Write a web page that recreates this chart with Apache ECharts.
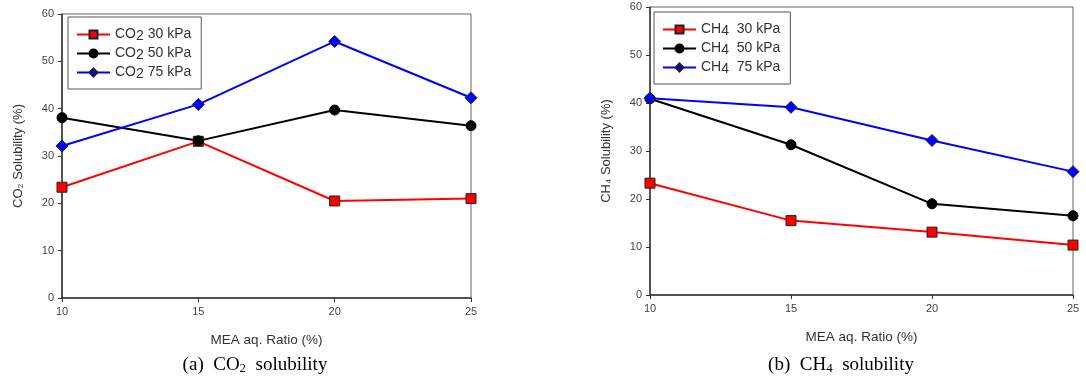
<!DOCTYPE html>
<html lang="en">
<head>
    <meta charset="UTF-8">
    <title>CO2 / CH4 solubility vs MEA ratio</title>
    <script src="https://cdn.jsdelivr.net/npm/echarts@6/dist/echarts.min.js"></script>
    <style>
        html, body { margin: 0; padding: 0; background: #fff; }
        #chart { width: 1086px; height: 377px; }
    </style>
</head>
<body>
    <div id="chart"></div>
    <script>
        // MEA aq. ratio (%)
        var ratios = [10, 15, 20, 25];
        var pressures = ['30 kPa', '50 kPa', '75 kPa'];

        // (a) CO2 solubility (%)
        var co2_30 = [23.4, 33.1, 20.5, 21.0];
        var co2_50 = [38.1, 33.2, 39.7, 36.4];
        var co2_75 = [32.1, 40.9, 54.2, 42.3];

        // (b) CH4 solubility (%)
        var ch4_30 = [23.3, 15.5, 13.1, 10.4];
        var ch4_50 = [40.9, 31.3, 19.0, 16.5];
        var ch4_75 = [41.0, 39.1, 32.2, 25.7];

        var yTicks = [0, 10, 20, 30, 40, 50, 60];

        var colors = ['#ff0000', '#000000', '#0000ff'];
        var symbols = ['rect', 'circle', 'diamond'];
        var symSizes = [10, 10, 12];
        var font = '"Liberation Sans", Arial, sans-serif';
        var serif = '"Liberation Serif", "Times New Roman", serif';

        function pairs(ys) {
            return ratios.map(function (x, i) { return [x, ys[i]]; });
        }

        function makeSeries(name, ys, k, idx) {
            return {
                name: name,
                type: 'line',
                xAxisIndex: idx,
                yAxisIndex: idx,
                data: pairs(ys),
                symbol: symbols[k],
                symbolSize: symSizes[k],
                lineStyle: { color: colors[k], width: 2 },
                itemStyle: {
                    color: colors[k],
                    borderColor: k === 1 ? '#000' : '#222',
                    borderWidth: 1
                },
                z: 3 + k,
                emphasis: { disabled: true },
                animation: false
            };
        }

        function xAxis(idx) {
            return {
                gridIndex: idx,
                type: 'value',
                min: 10, max: 25, interval: 5,
                name: 'MEA aq. Ratio (%)',
                nameLocation: 'middle',
                nameGap: 35,
                nameTextStyle: { fontFamily: font, fontSize: 13.5, color: '#333' },
                axisLine: { lineStyle: { color: '#333', width: 1.5 } },
                axisTick: { length: 4, lineStyle: { color: '#333' } },
                axisLabel: { fontFamily: font, fontSize: 11, color: '#444', margin: 8 },
                splitLine: { show: false }
            };
        }

        function yAxis(idx, name) {
            return {
                gridIndex: idx,
                type: 'value',
                min: yTicks[0], max: yTicks[yTicks.length - 1], interval: 10,
                name: name,
                nameLocation: 'middle',
                nameGap: 37,
                nameTextStyle: { fontFamily: font, fontSize: 13, color: '#333' },
                axisLine: { show: true, lineStyle: { color: '#333', width: 1.5 } },
                axisTick: { show: true, length: 4, lineStyle: { color: '#333' } },
                axisLabel: { fontFamily: font, fontSize: 11, color: '#444', margin: 8 },
                splitLine: { show: false }
            };
        }

        function legend(gas, left, top, width, gap) {
            var names = pressures.map(function (p) { return gas + ' ' + p; });
            return {
                data: names,
                orient: 'vertical',
                left: left, top: top,
                width: width,
                itemGap: 2,
                itemWidth: 33,
                itemHeight: 10,
                padding: [9, 10, 8, 8],
                borderColor: '#555',
                borderWidth: 1,
                formatter: function (n) {
                    var p = n.split(' ');
                    return '{a|' + p[0].replace(/\d/, '') + '}{s|' + p[0].replace(/\D/g, '') + '}{a|' + gap + p[1] + ' ' + p[2] + '}';
                },
                textStyle: {
                    rich: {
                        a: { fontFamily: font, fontSize: 14, color: '#333', lineHeight: 15 },
                        s: { fontFamily: font, fontSize: 14, color: '#333', lineHeight: 15, padding: [3, 0, 0, 0] }
                    }
                }
            };
        }

        function caption(pre, gas, sub, x) {
            return {
                text: pre + '  ' + gas + '{s|' + sub + '}  solubility',
                left: x, top: 350, textAlign: 'center',
                textStyle: {
                    fontFamily: serif, fontSize: 19, fontWeight: 'normal', color: '#000',
                    rich: { s: { fontFamily: serif, fontSize: 13, color: '#000', padding: [7, 0, 0, 0] } }
                }
            };
        }

        var chart = echarts.init(document.getElementById('chart'), null, { renderer: 'canvas' });
        var option = {
            backgroundColor: '#fff',
            animation: false,
            grid: [
                { left: 62, top: 14, width: 409, height: 284, show: true, borderColor: '#666', borderWidth: 1 },
                { left: 650, top: 7, width: 423, height: 288, show: true, borderColor: '#666', borderWidth: 1 }
            ],
            xAxis: [xAxis(0), xAxis(1)],
            yAxis: [yAxis(0, 'CO\u2082 Solubility (%)'), yAxis(1, 'CH\u2084 Solubility (%)')],
            legend: [legend('CO2', 68, 17, 132, ' '), legend('CH4', 654, 12, 140, '  ')],
            title: [
                caption('(a)', 'CO', '2', 250),
                caption('(b)', 'CH', '4', 836)
            ],
            series: [
                makeSeries('CO2 30 kPa', co2_30, 0, 0),
                makeSeries('CO2 50 kPa', co2_50, 1, 0),
                makeSeries('CO2 75 kPa', co2_75, 2, 0),
                makeSeries('CH4 30 kPa', ch4_30, 0, 1),
                makeSeries('CH4 50 kPa', ch4_50, 1, 1),
                makeSeries('CH4 75 kPa', ch4_75, 2, 1)
            ]
        };
        chart.setOption(option);
    </script>
</body>
</html>
